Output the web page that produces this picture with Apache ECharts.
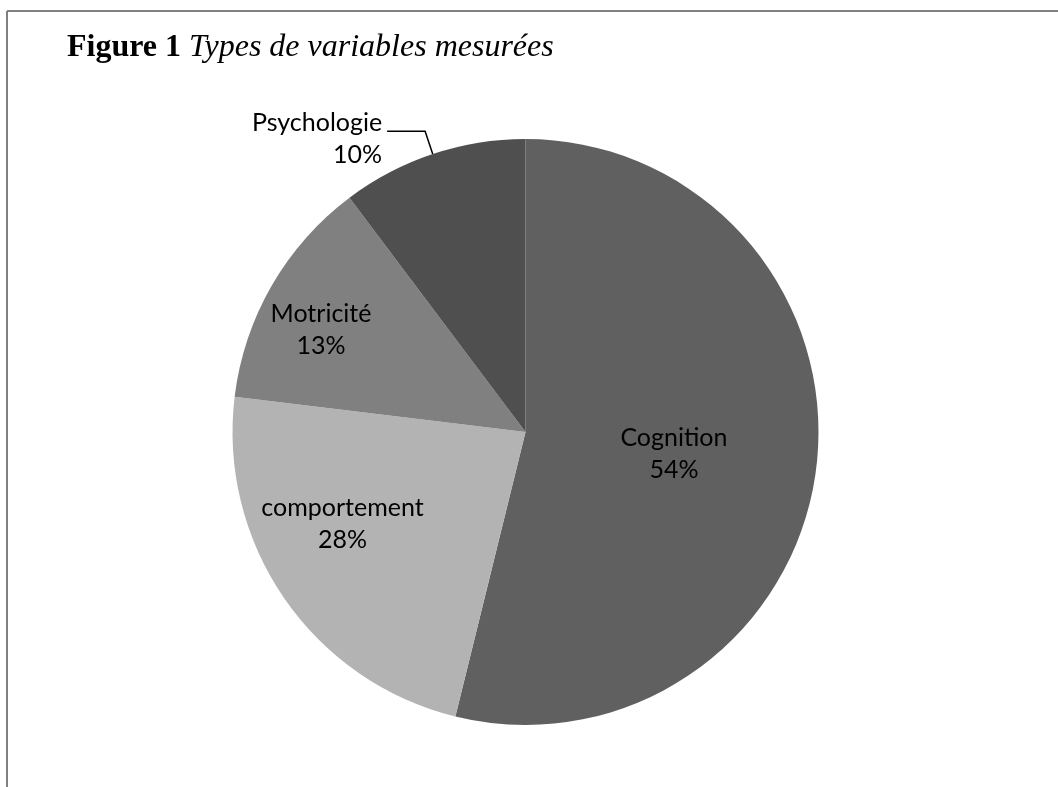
<!DOCTYPE html>
<html>
<head>
<meta charset="utf-8">
<script src="https://cdn.jsdelivr.net/npm/echarts@6/dist/echarts.min.js"></script>
<style>
  html, body { margin: 0; padding: 0; background: #fff; }
  #chart { width: 1058px; height: 787px; }
</style>
</head>
<body>
<div id="chart"></div>
<script>

// categories, counts (slice sizes) and the percentages printed on the figure
var categories = ['Cognition', 'comportement', 'Motricité', 'Psychologie'];
var counts = [21, 9, 5, 4];
var shownPct = [54, 28, 13, 10];
var sliceColors = ['#606060', '#b3b3b3', '#808080', '#4f4f4f'];

// label nudges so they sit where the original placed them
var labelShift = [[0, 4], [-60, 7], [-75, -27], [0, 8]];


var pieData = [];
for (var i = 0; i < categories.length; i++) {
    var item = {
        name: categories[i],
        value: counts[i],
        itemStyle: { color: sliceColors[i] }
    };
    if (categories[i] === 'Psychologie') {
        item.label = { position: 'outside' };
        item.labelLine = { show: true, length: 24, length2: 38 };
    }
    pieData.push(item);
}

var chart = echarts.init(document.getElementById('chart'));

var option = {
    backgroundColor: '#ffffff',
    animation: false,
    title: {
        left: 62,
        top: 27,
        text: '{b|Figure 1} {i|Types de variables mesurées}',
        textStyle: {
            fontWeight: 'normal',
            fontFamily: 'Liberation Serif',
            fontSize: 32,
            rich: {
                b: { fontFamily: 'Liberation Serif', fontWeight: 'bold', fontSize: 32, color: '#000' },
                i: { fontFamily: 'Liberation Serif', fontStyle: 'italic', fontWeight: 'normal', fontSize: 32, color: '#000' }
            }
        }
    },
    graphic: [
        { type: 'line', shape: { x1: 7, y1: 11, x2: 1058, y2: 11 }, style: { stroke: '#808080', lineWidth: 2 } },
        { type: 'line', shape: { x1: 7, y1: 11, x2: 7, y2: 787 }, style: { stroke: '#808080', lineWidth: 2 } }
    ],
    series: [
        {
            name: 'Variables',
            type: 'pie',
            center: [525.5, 432],
            radius: 293,
            startAngle: 90,
            clockwise: true,
            avoidLabelOverlap: false,
            itemStyle: { borderWidth: 0 },
            emphasis: { disabled: true },
            label: {
                show: true,
                position: 'inside',
                fontFamily: 'Lato',
                fontSize: 25,
                lineHeight: 32,
                color: '#000',
                align: 'center',
                formatter: function (p) {
                    return p.name + '\n' + shownPct[p.dataIndex] + '%';
                }
            },
            labelLine: { show: false, lineStyle: { color: '#000', width: 1.5 } },
            labelLayout: function (p) {
                var s = labelShift[p.dataIndex];
                return { dx: s[0], dy: s[1] };
            },
            data: pieData
        }
    ]
};

chart.setOption(option);
</script>
</body>
</html>
